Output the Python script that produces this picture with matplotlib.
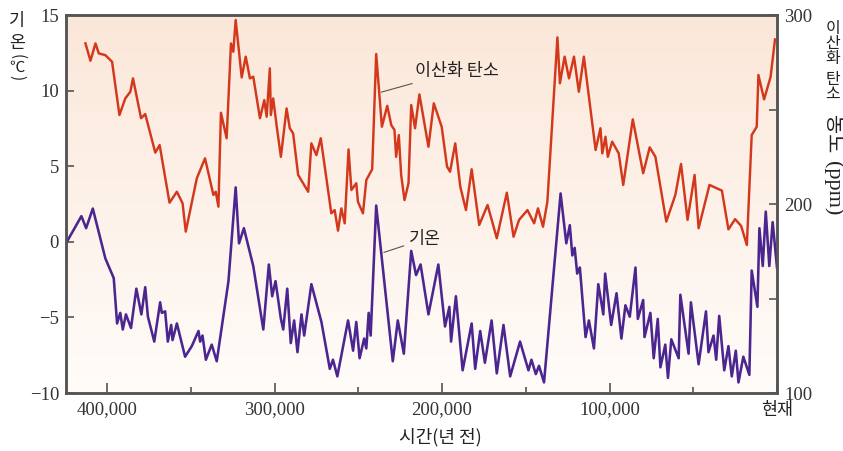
import numpy as np
import matplotlib
matplotlib.use("Agg")
import matplotlib.pyplot as plt
from matplotlib.ticker import FixedLocator

# CO2 concentration (ppm) vs years before present
co2_years = [412900, 409900, 406900, 404900, 401000, 397000, 392600, 389100, 386100, 384500,
             379700, 377200, 371200, 368600, 362700, 358300, 354900, 353000, 346400, 341500,
             336500, 335100, 333500, 332000, 328600, 326000, 324600, 323200, 319600, 317200,
             314700, 312700, 308700, 306100, 304700, 302800, 302200, 300800, 298800, 296200,
             292800, 290900, 288900, 285900, 279900, 278000, 275000, 272400, 266100, 264100,
             262100, 260100, 258100, 255800, 254100, 251200, 250200, 247200, 245200, 241700,
             239300, 235900, 232700, 230300, 228400, 227400, 225800, 224400, 222400, 220000,
             218400, 216100, 213500, 208100, 204900, 200200, 197000, 195200, 192100, 189100,
             185700, 182300, 177800, 172800, 167300, 161300, 157300, 154000, 149000, 145000,
             142700, 139700, 137100, 131100, 129600, 126800, 124200, 121200, 118300, 115300,
             108300, 105400, 104300, 102400, 101000, 98400, 94500, 91800, 86100, 79900,
             76000, 72600, 66100, 60700, 57300, 53400, 49200, 46800, 40300, 32900,
             29000, 25000, 21400, 18000, 15100, 12100, 11100, 7700, 3800, 1200]
co2_ppm = [285.0, 275.8, 285.0, 279.7, 278.8, 275.3, 247.1, 255.9, 259.4, 266.5,
           245.4, 247.6, 227.2, 231.2, 200.7, 206.5, 200.4, 185.4, 213.6, 224.2,
           204.8, 206.5, 198.6, 248.3, 234.8, 285.0, 280.6, 297.4, 267.0, 278.0,
           266.5, 267.4, 245.4, 255.0, 246.2, 271.8, 247.1, 255.9, 241.8, 225.0,
           250.6, 240.1, 237.4, 215.4, 206.5, 232.1, 225.9, 234.8, 195.1, 196.8,
           185.9, 197.7, 189.8, 228.9, 207.4, 211.0, 201.2, 195.1, 212.7, 218.4,
           279.4, 240.9, 252.0, 241.8, 239.2, 225.0, 236.5, 215.4, 202.1, 211.0,
           252.4, 240.1, 258.0, 230.3, 253.3, 240.9, 219.8, 217.1, 232.1, 209.2,
           196.8, 218.4, 188.9, 199.5, 181.9, 206.0, 182.7, 191.6, 196.8, 189.8,
           197.7, 188.0, 201.2, 288.2, 263.9, 278.0, 266.5, 278.0, 259.4, 278.0,
           228.6, 240.1, 226.8, 235.6, 225.0, 233.0, 226.8, 210.1, 244.8, 216.3,
           230.0, 225.0, 190.7, 204.8, 221.2, 191.6, 215.4, 187.2, 210.1, 207.1,
           186.6, 192.0, 188.4, 178.3, 236.5, 240.9, 268.3, 255.4, 267.4, 287.1]

# temperature anomaly (°C) vs years before present
temp_years = [424000, 415300, 412500, 408500, 401000, 396000, 394000, 392100, 390600, 388700,
              385700, 382500, 379500, 377200, 375600, 371800, 368300, 367300, 365300, 363700,
              361700, 360900, 358300, 353400, 349400, 345400, 344400, 343000, 341000, 337500,
              334500, 327500, 323200, 321200, 318300, 312700, 306700, 303400, 301400, 299400,
              296200, 294800, 292400, 290300, 288300, 286300, 283900, 282300, 278000, 272000,
              267000, 265100, 262500, 256100, 253100, 251200, 249200, 246500, 245200, 243800,
              242600, 239300, 229400, 226400, 222800, 218400, 215500, 212800, 208100, 202200,
              198200, 195600, 194600, 191700, 187700, 182300, 180200, 177200, 174400, 170400,
              167300, 163300, 159300, 153400, 148400, 146600, 144000, 142100, 139100, 129200,
              125800, 123700, 122200, 120800, 119300, 117700, 114300, 112300, 109300, 106700,
              103700, 102600, 99000, 95800, 92900, 90500, 87900, 84500, 83100, 79900,
              79100, 75600, 73600, 71200, 69600, 66700, 65100, 63100, 58700, 57700,
              52800, 51400, 46800, 42400, 40900, 37900, 36300, 34500, 31500, 29000,
              27000, 24600, 23000, 20100, 16500, 15100, 11700, 10500, 8500, 6700,
              4600, 2600, 0]
temp_c = [0.0, 1.7, 0.9, 2.2, -1.1, -2.4, -5.4, -4.7, -5.8, -4.8,
          -5.7, -3.1, -4.8, -3.0, -4.95, -6.6, -4.0, -4.7, -4.6, -6.6,
          -5.5, -6.5, -5.4, -7.6, -6.9, -5.9, -6.6, -6.2, -7.8, -6.8,
          -7.9, -2.6, 3.6, -0.1, 0.9, -1.6, -5.8, -1.5, -3.6, -2.6,
          -5.1, -5.8, -3.1, -6.7, -5.2, -7.3, -4.8, -6.2, -2.8, -5.3,
          -8.4, -7.8, -8.9, -5.2, -7.2, -5.3, -7.7, -6.4, -7.05, -4.7,
          -6.2, 2.4, -7.9, -5.2, -7.4, -0.6, -2.2, -1.5, -4.8, -1.5,
          -5.6, -4.3, -6.6, -3.6, -8.5, -5.4, -8.4, -5.9, -8.0, -5.2,
          -8.7, -5.5, -8.9, -6.6, -8.5, -7.8, -8.75, -8.2, -9.3, 3.2,
          -0.1, 1.1, -0.9, -0.4, -2.1, -1.7, -6.3, -5.2, -7.05, -2.8,
          -4.8, -2.1, -5.5, -3.4, -6.4, -4.2, -4.95, -1.7, -5.1, -3.85,
          -6.3, -4.7, -7.7, -5.1, -8.3, -6.8, -9.0, -6.45, -7.7, -3.5,
          -7.4, -4.0, -8.1, -4.6, -7.3, -6.2, -7.8, -4.9, -8.5, -6.9,
          -8.9, -7.2, -9.3, -7.6, -8.8, -1.9, -4.3, 0.9, -1.6, 2.0,
          -1.6, 1.3, -1.7]

x_ticks = [400000, 300000, 200000, 100000, 0]
x_labels = ["400,000", "300,000", "200,000", "100,000", "현재"]
x_minor = [350000, 250000, 150000, 50000]
temp_ticks = [15, 10, 5, 0, -5, -10]
co2_ticks = [100, 150, 200, 250, 300]
co2_labels = ["100", "", "200", "", "300"]

kr = ["Noto Sans CJK KR", "DejaVu Sans"]
serif = ["Liberation Serif", "DejaVu Serif"]
red = "#d4381c"
purple = "#4b2590"
spine_col = "#555555"
txt_col = "#222222"

fig = plt.figure(figsize=(8.43, 4.51), dpi=100)
ax = fig.add_axes([0.0783, 0.1286, 0.8434, 0.838])
ax2 = ax.twinx()

# peach-to-white background gradient
grad = np.linspace(0, 1, 256).reshape(-1, 1)
top = np.array([251, 231, 217]) / 255
bot = np.array([255, 252, 249]) / 255
img = top * (1 - grad[..., None]) + bot * grad[..., None]
ax.imshow(img, extent=[0, 1, 0, 1], transform=ax.transAxes, aspect="auto", zorder=0)

ax.plot(temp_years, temp_c, color=purple, lw=1.85, zorder=3)
ax2.plot(co2_years, co2_ppm, color=red, lw=1.75, zorder=3)

ax.set_xlim(424500, 0)
ax.set_ylim(-10, 15)
ax2.set_ylim(100, 300)

ax.set_xticks(x_ticks)
ax.set_xticklabels(x_labels)
ax.xaxis.set_minor_locator(FixedLocator(x_minor))
ax.set_yticks(temp_ticks)
ax.set_yticklabels([str(t).replace("-", "\u2212") for t in temp_ticks])
ax2.set_yticks(co2_ticks)
ax2.set_yticklabels(co2_labels)

ax.tick_params(axis="x", which="major", direction="in", length=7, width=1.2, color=spine_col, pad=6)
ax.tick_params(axis="x", which="minor", direction="in", length=4.5, width=1.2, color=spine_col)
ax.tick_params(axis="y", direction="in", length=6, width=1.2, color=spine_col, pad=5)
ax2.tick_params(axis="y", direction="in", length=6, width=1.2, color=spine_col, pad=5)

for lab in ax.get_xticklabels() + ax.get_yticklabels() + ax2.get_yticklabels():
    lab.set_fontfamily(serif)
    lab.set_fontsize(13.5)
    lab.set_color("#333333")
last = ax.get_xticklabels()[-1]
last.set_fontfamily(kr)
last.set_fontsize(12.5)
last.set_color(txt_col)

for a in (ax, ax2):
    for s in a.spines.values():
        s.set_color(spine_col)
        s.set_linewidth(1.8)

ax.annotate("이산화 탄소", xy=(236300, 9.9), xytext=(216000, 11.3),
            ha="left", va="center", fontsize=12.5, family=kr, color=txt_col,
            arrowprops=dict(arrowstyle="-", color="#555555", lw=0.8, shrinkA=2, shrinkB=0))
ax.annotate("기온", xy=(234700, -0.7), xytext=(219600, 0.2),
            ha="left", va="center", fontsize=12.5, family=kr, color=txt_col,
            arrowprops=dict(arrowstyle="-", color="#555555", lw=0.8, shrinkA=2, shrinkB=0))

fig.text(440 / 843, 1 - 437 / 451, "시간(년 전)", ha="center", va="center",
         fontsize=13, family=kr, color=txt_col)

# left label: stacked upright hangul, rotated brackets
fig.text(17 / 843, 1 - 32 / 451, "기\n온", ha="center", va="center", linespacing=1.25,
         fontsize=12.5, family=kr, color=txt_col)
fig.text(17 / 843, 1 - 57 / 451, "(", ha="center", va="center", rotation=-90,
         fontsize=11, family=kr, color=txt_col)
fig.text(17 / 843, 1 - 67 / 451, "℃", ha="center", va="center",
         fontsize=11, family=kr, color=txt_col)
fig.text(17 / 843, 1 - 78 / 451, ")", ha="center", va="center", rotation=-90,
         fontsize=11, family=kr, color=txt_col)

# right label: stacked upright then rotated
fig.text(833 / 843, 1 - 43.5 / 451, "이\n산\n화", ha="center", va="center", linespacing=0.88,
         fontsize=11.5, family=kr, color=txt_col)
fig.text(833 / 843, 1 - 87 / 451, "탄\n소", ha="center", va="center", linespacing=0.88,
         fontsize=11.5, family=kr, color=txt_col)
fig.text(833 / 843, 1 - 134 / 451, "농도", ha="center", va="center", rotation=-90,
         fontsize=15, family=kr, color=txt_col)
fig.text(833 / 843, 1 - 188 / 451, "(ppm)", ha="center", va="center", rotation=-90,
         fontsize=16, family=serif, color=txt_col)

fig.savefig("out.png", dpi=100)
